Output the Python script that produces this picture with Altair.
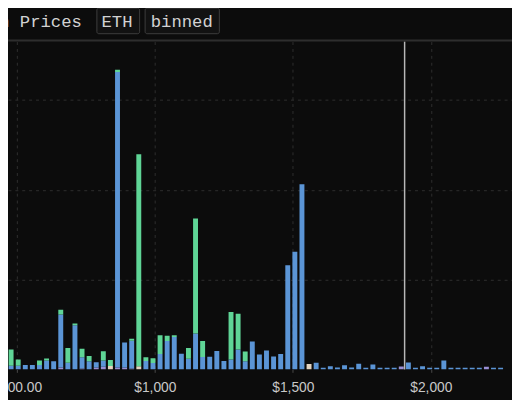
import altair as alt
import pandas as pd

# ---- data ----
BIN_START = 440.85   # lower edge ($) of the first visible price bin
BIN_WIDTH = 25.7     # $ per bin
CURRENT_PRICE = 1905

LAV = [0, 0, 0, 0, 0, 0, 0, 0, 2, 0, 0, 1, 0, 2, 3, 0, 2, 2, 1, 0,
       0, 0, 0, 0, 0, 0, 0, 0, 0, 0, 0, 0, 0, 0, 0, 0, 0, 0, 0, 0,
       0, 0, 0, 0, 0, 0, 0, 0, 0, 0, 0, 0, 0, 0, 0, 0, 3.3, 0, 0, 0,
       0, 0, 0, 0, 0, 0, 0, 0, 3, 0, 0]
BEIGE = [0, 0, 0, 0, 0, 0, 0, 0, 0, 0, 0, 0, 0, 0, 0, 3.7, 0, 0, 0, 3.5,
         0, 0, 0, 0, 0, 0, 0, 0, 0, 0, 0, 0, 0, 0, 0, 0, 0, 0, 0, 0,
         0, 0, 0, 6, 0, 0, 0, 0, 0, 0, 0, 0, 0, 0, 0, 0, 0, 0, 0, 0,
         0, 0, 0, 0, 0, 0, 0, 0, 0, 0, 0]
BLUE = [4, 4, 4, 5, 5, 5, 10, 9, 59, 7.3, 49, 12.6, 9, 6, 7, 0, 329, 28, 31, 0,
        9.2, 7, 17, 31.5, 36, 17.5, 11.8, 40, 13.7, 14, 20.5, 9.2, 11, 22, 9, 31, 16.5, 21, 14.3, 17,
        116, 131, 206, 0, 7.3, 1.8, 3.6, 2.2, 4.7, 2.2, 6.2, 1.8, 5.5, 1.8, 1.8, 1.8, 0, 7.7, 1.8, 3.6,
        1.8, 1.8, 10, 1.8, 1.8, 1.8, 1.8, 1.8, 0, 1.8, 1.8]
GREEN = [4, 18, 7, 0, 0, 5, 2, 0, 5.5, 16.5, 2, 9.4, 6, 0, 10.3, 6.6, 2.5, 0, 2, 236,
         4.4, 5.5, 21, 6, 2, 0, 12, 128, 18, 0, 0, 0, 53, 40, 11, 0, 0, 0, 0, 0,
         0, 0, 0, 0, 0, 0, 0, 0, 0, 0, 0, 0, 0, 0, 0, 0, 0, 0, 0, 0,
         0, 0, 0, 0, 0, 0, 0, 0, 0, 0, 0]

SERIES = ["lav", "beige", "blue", "green"]
COLORS = ["#9a8fd4", "#e4d4c0", "#5b95d6", "#5fd596"]
X_TICKS = [500, 1000, 1500, 2000]
Y_GRID = [100, 200, 300]

TITLE_TEXT = "n Prices"
TAGS = ["ETH", "binned"]

rows = []
for i in range(len(BLUE)):
    mid = BIN_START + i * BIN_WIDTH + BIN_WIDTH / 2
    for rank, (name, vals) in enumerate(zip(SERIES, [LAV, BEIGE, BLUE, GREEN])):
        if vals[i] > 0:
            rows.append({"mid": mid, "series": name, "rank": rank, "count": vals[i]})
df = pd.DataFrame(rows)
one = pd.DataFrame({"k": [0]})

BG = "#0c0c0c"

bars = alt.Chart(df).mark_bar(size=5, clip=True).encode(
    x=alt.X("mid:Q",
            scale=alt.Scale(domain=[486.0, 2276.2], nice=False, zero=False),
            axis=alt.Axis(values=X_TICKS, title=None, grid=True, domain=False,
                          labelExpr="datum.value == 500 ? '$500.00' : format(datum.value, '$,')",
                          labelFlush=False, labelOverlap=False,
                          tickSize=3, tickColor="#4a4a4a",
                          labelPadding=8, labelFontSize=14,
                          labelFont="Liberation Sans", labelColor="#c8c8c8")),
    y=alt.Y("count:Q", stack="zero",
            scale=alt.Scale(domain=[0, 365], nice=False),
            axis=alt.Axis(values=Y_GRID, labels=False, ticks=False, domain=False,
                          title=None, grid=True)),
    color=alt.Color("series:N", scale=alt.Scale(domain=SERIES, range=COLORS), legend=None),
    order=alt.Order("rank:Q", sort="ascending"),
)

price_rule = alt.Chart(pd.DataFrame({"price": [CURRENT_PRICE]})).mark_rule(
    color="#b8b8b8", strokeWidth=1.5).encode(x="price:Q")

separator = alt.Chart(one).mark_rule(color="#2e2e2e", strokeWidth=2).encode(
    x=alt.value(-10), x2=alt.value(520), y=alt.value(-1))

def tag_box(x1, x2):
    return alt.Chart(one).mark_rect(fill="#121212", stroke="#3e3e3e", strokeWidth=1,
                                    cornerRadius=2).encode(
        x=alt.value(x1), x2=alt.value(x2), y=alt.value(-34), y2=alt.value(-8))

def label(txt, x):
    return alt.Chart(one).mark_text(text=txt, align="left", baseline="alphabetic",
                                    font="Liberation Mono", fontSize=17.5,
                                    color="#d2d2d2").encode(x=alt.value(x), y=alt.value(-15))

chart = alt.layer(
    bars, price_rule, separator,
    tag_box(90.3, 133.7), tag_box(139.3, 214.7),
    label(TITLE_TEXT, -9), label(TAGS[0], 95), label(TAGS[1], 145),
).properties(
    width=512, height=333,
    padding={"left": 0, "top": 31, "right": 0, "bottom": 28},
    autosize="none", background=BG,
).configure_view(stroke=None).configure_axis(
    gridColor="#2f2f2f", gridDash=[3, 4], gridWidth=1)

chart.save("out.html", embed_options={"renderer": "svg", "actions": False})
